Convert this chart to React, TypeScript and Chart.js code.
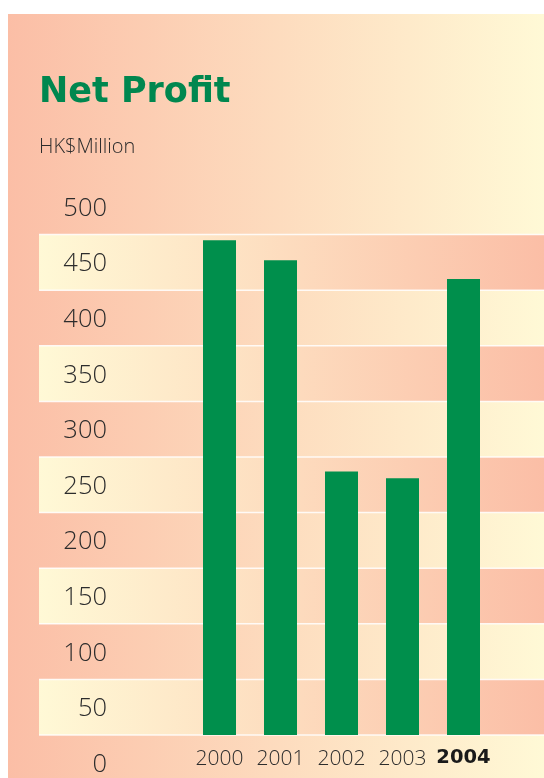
import React, { useEffect, useRef } from "react";
import { Chart, registerables } from "chart.js";

Chart.register(...registerables);

// ---- data ----
const categories = ["2000", "2001", "2002", "2003", "2004"];
const netProfit = [445, 427, 237, 231, 410];
const yTickValues = [0, 50, 100, 150, 200, 250, 300, 350, 400, 450, 500];
const bandEdges = [0, 50, 100, 150, 200, 250, 300, 350, 400, 450];
const titleText = "Net Profit";
const unitText = "HK$Million";
const highlightYear = "2004";

// ---- style ----
const SALMON = "#fbbea6";
const CREAM = "#fff9d6";
const GREEN_BAR = "#008f4c";
const GREEN_TITLE = "#00874f";
const TEXT = "#2c2c2c";
const FONT = "'Open Sans', 'DejaVu Sans', sans-serif";

const backdropPlugin = {
  id: "backdrop",
  beforeDraw(chart: any) {
    const { ctx, width, height, scales } = chart;
    const y = scales.y;
    ctx.save();
    ctx.fillStyle = "#ffffff";
    ctx.fillRect(0, 0, width, height);
    const g = ctx.createLinearGradient(8, 0, width, 0);
    g.addColorStop(0, SALMON);
    g.addColorStop(1, CREAM);
    ctx.fillStyle = g;
    ctx.fillRect(8, 14, width - 8, height - 14);
    const bandLeft = 39;
    const g2 = ctx.createLinearGradient(bandLeft, 0, width, 0);
    g2.addColorStop(0, CREAM);
    g2.addColorStop(1, SALMON);
    ctx.fillStyle = g2;
    for (let i = 0; i + 1 < bandEdges.length; i += 2) {
      const top = y.getPixelForValue(bandEdges[i + 1]);
      const bottom = y.getPixelForValue(bandEdges[i]);
      ctx.fillRect(bandLeft, top, width - bandLeft, bottom - top);
    }
    ctx.strokeStyle = "rgba(255,255,255,0.85)";
    ctx.lineWidth = 1.5;
    for (const v of bandEdges) {
      const py = y.getPixelForValue(v);
      ctx.beginPath();
      ctx.moveTo(bandLeft, py);
      ctx.lineTo(width, py);
      ctx.stroke();
    }
    ctx.restore();
  },
};

export default function App() {
  const ref = useRef<HTMLCanvasElement | null>(null);

  useEffect(() => {
    document.body.style.margin = "0";
    document.body.style.overflow = "hidden";
    if (!ref.current) return;
    const chart = new Chart(ref.current, {
      type: "bar",
      data: {
        labels: categories,
        datasets: [
          {
            data: netProfit,
            backgroundColor: GREEN_BAR,
            borderWidth: 0,
            barPercentage: 33 / 61,
            categoryPercentage: 1,
          },
        ],
      },
      options: {
        animation: false,
        responsive: false,
        devicePixelRatio: 1,
        layout: { padding: { left: 39, right: 50, top: 0, bottom: 0 } },
        plugins: {
          legend: { display: false },
          tooltip: { enabled: false },
          title: {
            display: true,
            text: titleText,
            align: "start",
            color: GREEN_TITLE,
            font: { family: "'DejaVu Sans', sans-serif", size: 35, weight: "bold" },
            padding: { top: 72, bottom: 0 },
          },
          subtitle: {
            display: true,
            text: unitText,
            align: "start",
            color: TEXT,
            font: { family: FONT, size: 20, weight: 300 },
            padding: { top: 21, bottom: 20 },
          },
        },
        scales: {
          x: {
            grid: { display: false, drawTicks: false },
            border: { display: false },
            ticks: {
              padding: 11,
              color: (c: any) => (categories[c.index] === highlightYear ? "#1a1a1a" : TEXT),
              font: (c: any) =>
                categories[c.index] === highlightYear
                  ? { family: "'DejaVu Sans', sans-serif", size: 19.5, weight: "bold" }
                  : { family: FONT, size: 21, weight: 300 },
            },
            afterFit: (s: any) => {
              s.height = 43;
            },
          },
          y: {
            min: 0,
            max: 500,
            grid: { display: false, drawTicks: false },
            border: { display: false },
            afterBuildTicks: (s: any) => {
              s.ticks = yTickValues.map((v) => ({ value: v }));
            },
            ticks: {
              padding: 82,
              labelOffset: 29.5,
              color: TEXT,
              font: { family: FONT, size: 25.5, weight: 300 },
              autoSkip: false,
            },
            afterFit: (s: any) => {
              s.width = 150;
              s.paddingTop = 0;
              s.paddingBottom = 0;
            },
          },
        },
      },
      plugins: [backdropPlugin],
    });
    return () => chart.destroy();
  }, []);

  return (
    <div style={{ width: 544, height: 778 }}>
      <canvas ref={ref} width={544} height={778} style={{ display: "block" }} />
    </div>
  );
}
